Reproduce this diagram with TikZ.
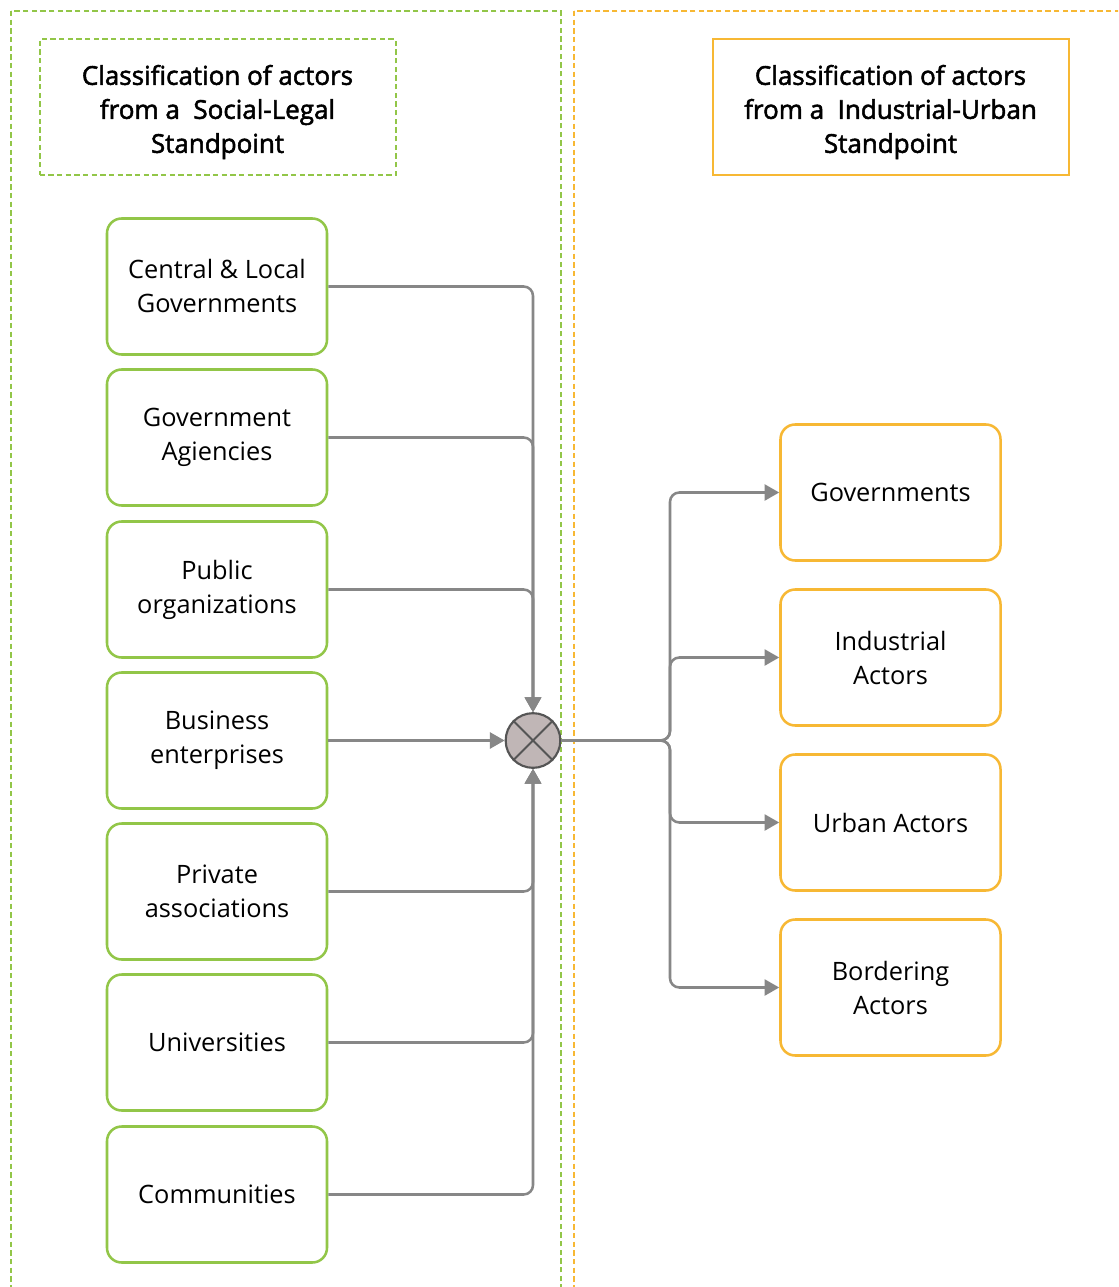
\documentclass[tikz,border=0pt]{standalone}
\usepackage{fontspec}
\setmainfont{Open Sans}
\newfontfamily\headfont[FakeBold=2]{Open Sans}
\usetikzlibrary{arrows.meta}
\definecolor{leafgreen}{RGB}{146,198,72}
\definecolor{amber}{RGB}{247,184,52}
\definecolor{wire}{RGB}{135,135,135}
\definecolor{mixfill}{RGB}{192,182,182}
\definecolor{mixline}{RGB}{85,85,85}
\tikzset{
  actor/.style={draw=leafgreen, line width=1.9pt, rounded corners=11pt,
    minimum width=165pt, minimum height=102pt, align=center,
    font=\fontsize{19}{25.5}\selectfont},
  target/.style={actor, draw=amber},
  headbox/.style={line width=1.5pt, minimum width=267pt, minimum height=102pt},
  headtext/.style={align=center, font=\headfont\fontsize{19.5}{25.5}\selectfont},
  link/.style={draw=wire, line width=1.9pt, rounded corners=7pt},
  tip/.style={-{Triangle[length=11pt,width=12pt]}},
  frame/.style={line width=1.5pt, dash pattern=on 4pt off 2.5pt},
}
\begin{document}
\begin{tikzpicture}[x=0.75pt,y=-0.75pt]
\useasboundingbox (0,0) rectangle (1118,1287);
\fill[white] (0,0) rectangle (1118,1287);
% dashed group frames, running past the lower and right edges
\begin{scope}
  \clip (0,0) rectangle (1118,1287);
  \draw[frame, draw=leafgreen] (11,11) rectangle (561,1320);
  \draw[frame, draw=amber] (574,11) rectangle (1150,1320);
\end{scope}
% group headings
\node[headbox, draw=leafgreen, dash pattern=on 4pt off 2.5pt] (hl) at (217.5,107.5) {};
\node[headtext] (hlt) at (217.5,112) {Classification of actors\\from a\ \ Social-Legal\\Standpoint};
\node[headbox, draw=amber] (hr) at (890.5,107.5) {};
\node[headtext] (hrt) at (890.5,112) {Classification of actors\\from a\ \ Industrial-Urban\\Standpoint};
% social-legal actors
\node[actor] (a1) at (217,286.5) {Central \& Local\\Governments};
\node[actor] (a2) at (217,437.5) {Government\\Agiencies};
\node[actor] (a3) at (217,589.5) {Public\\organizations};
\node[actor] (a4) at (217,740.5) {Business\\enterprises};
\node[actor] (a5) at (217,891.5) {Private\\associations};
\node[actor] (a6) at (217,1042.5) {Universities};
\node[actor] (a7) at (217,1194.5) {Communities};
% industrial-urban actors
\node[target] (b1) at (890.5,492.5) {Governments};
\node[target] (b2) at (890.5,657.5) {Industrial\\Actors};
\node[target] (b3) at (890.5,822.5) {Urban Actors};
\node[target] (b4) at (890.5,987.5) {Bordering\\Actors};
% merge junction: circle with a cross
\node[circle, draw=mixline, fill=mixfill, line width=1.6pt,
      minimum size=41pt, inner sep=0pt] (mix) at (533,740.5) {};
\draw[mixline, line width=1.4pt] (mix.45) -- (mix.225) (mix.135) -- (mix.315);
% incoming links
\foreach \n in {a1,a2,a3}
  \draw[link, tip] (\n.east) -| (mix.north);
\foreach \n in {a5,a6,a7}
  \draw[link, tip] (\n.east) -| (mix.south);
\draw[link, tip] (a4.east) -- (mix.west);
% outgoing fan
\coordinate (fork) at (670,740.5);
\foreach \n in {b1,b2,b3,b4}
  \draw[link, tip] (mix.east) -- (fork) |- (\n.west);
\end{tikzpicture}
\end{document}
